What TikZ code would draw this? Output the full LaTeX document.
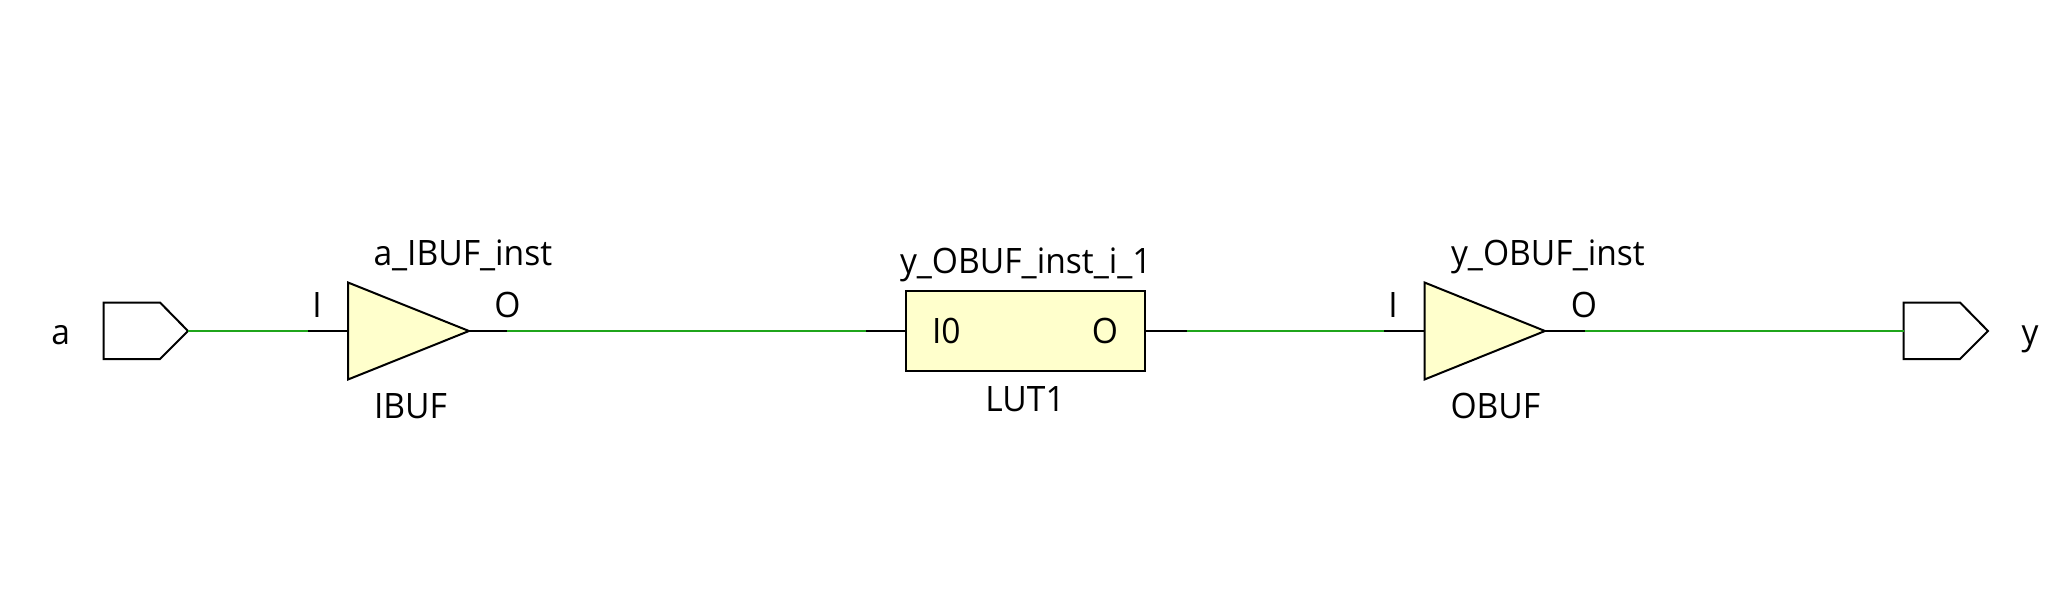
\documentclass[tikz,border=0pt]{standalone}
\usepackage{fontspec}
\setmainfont[FakeStretch=0.96]{Open Sans}
\definecolor{wiregreen}{HTML}{1FA51B}
\definecolor{cellfill}{HTML}{FFFFCC}
\tikzset{
  shapeline/.style={draw=black,line width=2pt,line join=miter},
  cellshape/.style={shapeline,fill=cellfill},
  stub/.style={draw=black,line width=2.2pt},
  wire/.style={draw=wiregreen,line width=2.8pt},
  lbl/.style={inner sep=0pt,outer sep=0pt,text=black,font=\fontsize{35}{38}\selectfont},
}
\begin{document}
\begin{tikzpicture}[x=1pt,y=-1pt]
\useasboundingbox (0,0) rectangle (2062,602);
\fill[white] (0,0) rectangle (2062,602);
% pin points
\coordinate (atip) at (188,331);
\coordinate (ibufIn) at (308,331);
\coordinate (ibufL) at (348,331);
\coordinate (ibufR) at (469,331);
\coordinate (ibufOut) at (507,331);
\coordinate (lutIn) at (866,331);
\coordinate (lutOut) at (1186.5,331);
\coordinate (obufIn) at (1384,331);
\coordinate (obufL) at (1424.5,331);
\coordinate (obufR) at (1545,331);
\coordinate (obufOut) at (1585,331);
\coordinate (yL) at (1903.5,331);
% cells
\node[cellshape,inner sep=0pt,minimum width=239pt,minimum height=80pt,anchor=west] (lut) at (904.8,331) {};
\draw[cellshape] (348,282.5) -- (ibufR) -- (348,379.5) -- cycle;
\draw[cellshape] (1424.5,282.5) -- (obufR) -- (1424.5,379.5) -- cycle;
% ports
\draw[shapeline] (103.5,302.5) -- (160,302.5) -- (atip) -- (160,359) -- (103.5,359) -- cycle;
\draw[shapeline] (yL |- 0,302.5) -- (1960,302.5) -- (1988,331) -- (1960,359) -- (yL |- 0,359) -- cycle;
% connectors
\draw[wire] (atip) -- (ibufIn);
\draw[stub] (ibufIn) -- (ibufL);
\draw[stub] (ibufR) -- (ibufOut);
\draw[wire] (ibufOut) -- (lutIn);
\draw[stub] (lutIn) -- (lut.west);
\draw[stub] (lut.east) -- (lutOut);
\draw[wire] (lutOut) -- (obufIn);
\draw[stub] (obufIn) -- (obufL);
\draw[stub] (obufR) -- (obufOut);
\draw[wire] (obufOut) -- (yL);
% labels
\node[lbl,anchor=base] (la) at (60.7,344) {a};
\node[lbl,anchor=base] (lI1) at (317,317) {I};
\node[lbl,anchor=base] (lO1) at (507.5,317) {O};
\node[lbl,anchor=base west] (linst1) at (373.5,265) {a\_IBUF\_inst};
\node[lbl,anchor=base west] (lt1) at (374,418) {IBUF};
\node[lbl,anchor=base west] (linst2) at (900,273) {y\_OBUF\_inst\_i\_1};
\node[lbl,anchor=base west] (lI0) at (932,343) {I0};
\node[lbl,anchor=base] (lO2) at (1105,343) {O};
\node[lbl,anchor=base] (lt2) at (1025,411) {LUT1};
\node[lbl,anchor=base] (lI2) at (1393,317) {I};
\node[lbl,anchor=base] (lO3) at (1584,317) {O};
\node[lbl,anchor=base west] (linst3) at (1451,265) {y\_OBUF\_inst};
\node[lbl,anchor=base west] (lt3) at (1450.5,418) {OBUF};
\node[lbl,anchor=base] (ly) at (2030,344) {y};
\end{tikzpicture}
\end{document}
